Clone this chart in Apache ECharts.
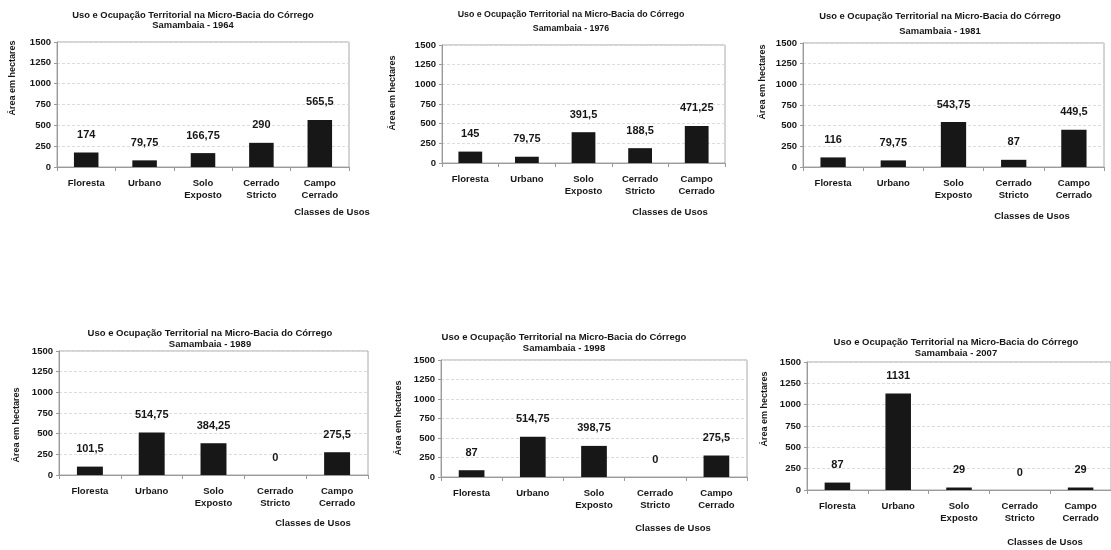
<!DOCTYPE html>
<html>
<head>
<meta charset="utf-8">
<script src="https://cdn.jsdelivr.net/npm/echarts@6/dist/echarts.min.js"></script>
<style>
html,body{margin:0;padding:0;background:#fff;}
#c{width:1111px;height:550px;}
</style>
</head>
<body>
<div id="c"></div>
<script>
// ---- data ----
const categories = ['Floresta', 'Urbano', 'Solo\nExposto', 'Cerrado\nStricto', 'Campo\nCerrado'];
const years = ['1964', '1976', '1981', '1989', '1998', '2007'];
const v1964 = [174, 79.75, 166.75, 290, 565.5];
const v1976 = [145, 79.75, 391.5, 188.5, 471.25];
const v1981 = [116, 79.75, 543.75, 87, 449.5];
const v1989 = [101.5, 514.75, 384.25, 0, 275.5];
const v1998 = [87, 514.75, 398.75, 0, 275.5];
const v2007 = [87, 1131, 29, 0, 29];
const yMin = 0, yMax = 1500, yStep = 250;
const titleLine1 = 'Uso e Ocupação Territorial na Micro-Bacia do Córrego';
const titleLine2Prefix = 'Samambaia - ';
const yName = 'Área em hectares';
const xName = 'Classes de Usos';

const seriesValues = [v1964, v1976, v1981, v1989, v1998, v2007];

// ---- layout (pixels) ----
const layout = [
  {grid: [57, 42, 292, 125],  title: [193, 10, 10, 9.4],  yt: [13, 78],   xt: [332, 212]},
  {grid: [442, 45, 283, 118], title: [571, 8, 14, 8.8],   yt: [393, 93],  xt: [670, 212]},
  {grid: [803, 43, 301, 124], title: [940, 9, 15, 9.4],   yt: [763, 82],  xt: [1032, 216]},
  {grid: [59, 351, 309, 124], title: [210, 328, 10.6, 9.5], yt: [17, 425], xt: [313, 523]},
  {grid: [441, 360, 306, 117], title: [564, 331.5, 11, 9.5], yt: [399, 418], xt: [673, 528]},
  {grid: [807, 362, 308, 128], title: [956, 336.5, 11, 9.5], yt: [765, 409], xt: [1045, 542]}
];

const FONT = '"Liberation Sans", Arial, sans-serif';
const TXT = '#161616';

const chart = echarts.init(document.getElementById('c'), null, {renderer: 'canvas'});

const grids = [], xAxes = [], yAxes = [], series = [], titles = [], graphics = [];
layout.forEach((L, i) => {
  const [gl, gt, gw, gh] = L.grid;
  grids.push({left: gl, top: gt, width: gw, height: gh, show: true,
    borderColor: '#a8a8a8', borderWidth: 1, backgroundColor: '#fff', containLabel: false});
  xAxes.push({
    type: 'category', gridIndex: i, data: categories,
    axisLine: {lineStyle: {color: '#9a9a9a', width: 1}},
    axisTick: {show: true, length: 4, lineStyle: {color: '#9a9a9a'}},
    axisLabel: {margin: 10, fontFamily: FONT, fontSize: 9.5, fontWeight: 'bold',
      color: TXT, lineHeight: 12, interval: 0}
  });
  yAxes.push({
    type: 'value', gridIndex: i, min: yMin, max: yMax, interval: yStep,
    axisLine: {show: true, lineStyle: {color: '#9a9a9a', width: 1}},
    axisTick: {show: true, length: 3, lineStyle: {color: '#9a9a9a'}},
    axisLabel: {margin: 6, fontFamily: FONT, fontSize: 9.5, fontWeight: 'bold', color: TXT,
      formatter: v => String(v)},
    splitLine: {show: true, lineStyle: {color: '#dcdcdc', type: [3, 2], width: 1}}
  });
  series.push({
    type: 'bar', xAxisIndex: i, yAxisIndex: i, data: seriesValues[i],
    barWidth: '42%',
    itemStyle: {color: '#171717'},
    label: {show: true, position: 'top', distance: 12,
      fontFamily: FONT, fontSize: 11, fontWeight: 'bold', color: TXT,
      formatter: p => String(p.value).replace('.', ',')},
    silent: true, animation: false
  });
  const [tx, ty, tlh, tfs] = L.title;
  titles.push({
    text: titleLine1 + '\n' + titleLine2Prefix + years[i],
    left: tx, top: ty, textAlign: 'center', padding: 0,
    textStyle: {fontFamily: FONT, fontSize: tfs, fontWeight: 'bold', color: TXT, lineHeight: tlh}
  });
  graphics.push({
    type: 'text', x: L.yt[0], y: L.yt[1], rotation: Math.PI / 2, silent: true,
    style: {text: yName, fontFamily: FONT, fontSize: 9, fontWeight: 'bold', fill: TXT,
      textAlign: 'center', textVerticalAlign: 'middle'}
  });
  graphics.push({
    type: 'text', x: L.xt[0], y: L.xt[1], silent: true,
    style: {text: xName, fontFamily: FONT, fontSize: 9.5, fontWeight: 'bold', fill: TXT,
      textAlign: 'center', textVerticalAlign: 'middle'}
  });
});

chart.setOption({
  backgroundColor: '#fff',
  animation: false,
  title: titles,
  grid: grids,
  xAxis: xAxes,
  yAxis: yAxes,
  series: series,
  graphic: graphics
});
</script>
</body>
</html>
